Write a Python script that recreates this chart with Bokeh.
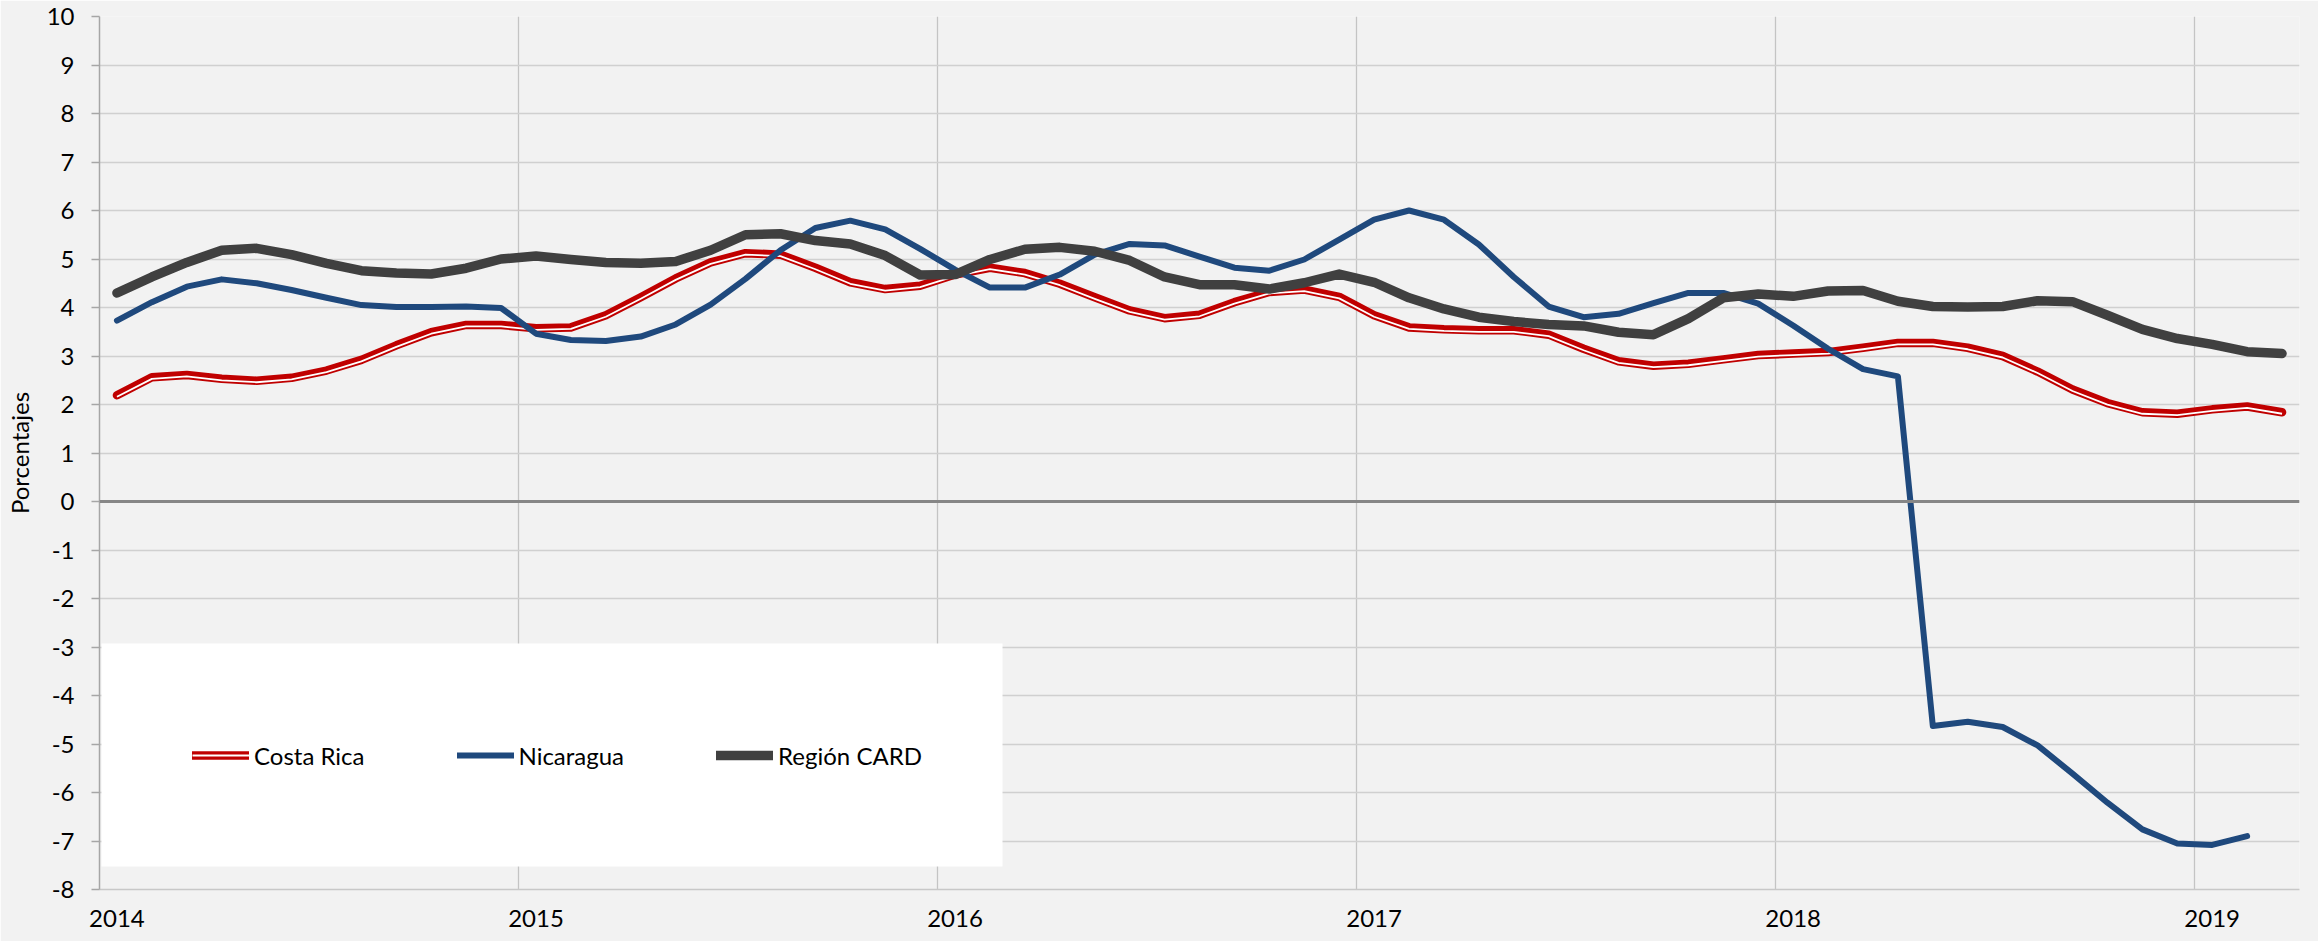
from bokeh.plotting import figure
from bokeh.models import ColumnDataSource, FixedTicker, Legend, LegendItem, Span, BoxAnnotation
from bokeh.transform import dodge
from bokeh.embed import file_html
from bokeh.resources import INLINE

# ---- data (monthly, Jan 2014 - Mar 2019) ----
months = [f"{y}-{m:02d}" for y in range(2014, 2020) for m in range(1, 13)][:63]
year_labels = ["2014", "2015", "2016", "2017", "2018", "2019"]

costa_rica = [2.19, 2.56, 2.61, 2.53, 2.49, 2.55, 2.70, 2.92, 3.22, 3.49, 3.64, 3.64, 3.57, 3.59,
              3.84, 4.21, 4.60, 4.93, 5.12, 5.09, 4.82, 4.52, 4.38, 4.45, 4.68, 4.82, 4.71, 4.49, 4.21,
              3.94, 3.78, 3.85, 4.11, 4.32, 4.37, 4.22, 3.84, 3.59, 3.55, 3.53, 3.53, 3.44, 3.15,
              2.89, 2.80, 2.84, 2.93, 3.02, 3.05, 3.08, 3.17, 3.27, 3.27, 3.17, 3.00, 2.68, 2.31,
              2.03, 1.84, 1.81, 1.90, 1.96, 1.84]

nicaragua = [3.73, 4.11, 4.43, 4.58, 4.50, 4.36, 4.20, 4.05, 4.01, 4.01, 4.02, 3.99, 3.46, 3.33,
             3.31, 3.40, 3.65, 4.06, 4.59, 5.18, 5.64, 5.79, 5.61, 5.21, 4.78, 4.41, 4.41, 4.68, 5.09,
             5.31, 5.28, 5.05, 4.82, 4.76, 4.99, 5.40, 5.81, 6.00, 5.81, 5.30, 4.63, 4.02, 3.80,
             3.87, 4.09, 4.30, 4.30, 4.08, 3.63, 3.15, 2.73, 2.58,
             -4.63, -4.54, -4.65, -5.03, -5.61, -6.21, -6.76, -7.05, -7.08, -6.90]

region_card = [4.30, 4.63, 4.93, 5.18, 5.22, 5.09, 4.91, 4.76, 4.71, 4.69, 4.81, 5.00, 5.06, 4.99,
               4.93, 4.91, 4.95, 5.18, 5.50, 5.52, 5.38, 5.31, 5.07, 4.67, 4.68, 4.99, 5.20, 5.24, 5.16,
               4.97, 4.63, 4.47, 4.47, 4.38, 4.51, 4.69, 4.52, 4.20, 3.97, 3.80, 3.71, 3.65, 3.62,
               3.49, 3.44, 3.77, 4.20, 4.28, 4.23, 4.34, 4.35, 4.13, 4.02, 4.01, 4.02, 4.14, 4.12,
               3.84, 3.55, 3.36, 3.24, 3.09, 3.05]

series_names = ["Costa Rica", "Nicaragua", "Región CARD"]

# ---- derived positions (category index) ----
xs = list(range(len(months)))
year_starts = [i for i, m in enumerate(months) if m.endswith("-01")]
year_bounds = [i - 0.5 for i in year_starts if i > 0]
y_ticks = list(range(-8, 11))

FONT = "Lato"
FRAME_H = 873

p = figure(width=2318, height=941, output_backend="svg", toolbar_location=None,
           x_range=(-0.5, len(months) - 0.5), y_range=(y_ticks[0], y_ticks[-1]),
           min_border_left=99, min_border_right=19, min_border_top=16, min_border_bottom=52)

p.background_fill_color = "#F2F2F2"
p.border_fill_color = "#F2F2F2"
p.outline_line_color = None

# grids
p.ygrid.ticker = FixedTicker(ticks=y_ticks)
p.ygrid.grid_line_color = "#D0D0D0"
p.ygrid.grid_line_width = 1.5
p.xgrid.ticker = FixedTicker(ticks=year_bounds)
p.xgrid.grid_line_color = "#C4C4C4"
p.xgrid.grid_line_width = 1.3

# y axis
p.yaxis.ticker = FixedTicker(ticks=y_ticks)
p.yaxis.major_label_overrides = {v: str(v) for v in y_ticks}
p.yaxis.axis_line_color = "#A6A6A6"
p.yaxis.axis_line_width = 1.5
p.yaxis.major_tick_line_color = "#A6A6A6"
p.yaxis.major_tick_line_width = 1.5
p.yaxis.major_tick_out = 8
p.yaxis.major_tick_in = 0
p.yaxis.minor_tick_out = 0
p.yaxis.minor_tick_in = 0
p.yaxis.major_label_text_font = FONT
p.yaxis.major_label_text_font_size = "24px"
p.yaxis.major_label_text_color = "black"
p.yaxis.major_label_standoff = 17
p.yaxis.axis_label = "Porcentajes"
p.yaxis.axis_label_text_font = FONT
p.yaxis.axis_label_text_font_size = "24px"
p.yaxis.axis_label_text_font_style = "normal"
p.yaxis.axis_label_text_color = "black"
p.yaxis.axis_label_standoff = 10

# x axis
p.xaxis.ticker = FixedTicker(ticks=year_starts)
p.xaxis.major_label_overrides = {i: lab for i, lab in zip(year_starts, year_labels)}
p.xaxis.axis_line_color = "#C8C8C8"
p.xaxis.axis_line_width = 1.5
p.xaxis.major_tick_out = 0
p.xaxis.major_tick_in = 0
p.xaxis.minor_tick_out = 0
p.xaxis.minor_tick_in = 0
p.xaxis.major_label_text_font = FONT
p.xaxis.major_label_text_font_size = "24px"
p.xaxis.major_label_text_color = "black"
p.xaxis.major_label_standoff = 20

# zero line
p.add_layout(Span(location=0, dimension="width", line_color="#878787", line_width=3))

# series
cr_src = ColumnDataSource(dict(x=xs, y=costa_rica))
ni_src = ColumnDataSource(dict(x=xs[:len(nicaragua)], y=nicaragua))
rc_src = ColumnDataSource(dict(x=xs, y=region_card))

white_offset = -1.5 * (y_ticks[-1] - y_ticks[0]) / FRAME_H

r_cr = p.line("x", "y", source=cr_src, line_color="#C00000", line_width=8.5,
              line_cap="round", line_join="round")
r_cr2 = p.line(x="x", y=dodge("y", white_offset), source=cr_src, line_color="white",
               line_width=1.8, line_join="round")
r_ni = p.line("x", "y", source=ni_src, line_color="#1F497D", line_width=6,
              line_cap="round", line_join="round")
r_rc = p.line("x", "y", source=rc_src, line_color="#404040", line_width=9.5,
              line_cap="round", line_join="round")

# white legend panel (screen units, relative to the plot frame)
p.add_layout(BoxAnnotation(left=2, right=903, bottom=23, top=246,
                           left_units="screen", right_units="screen",
                           bottom_units="screen", top_units="screen",
                           fill_color="white", fill_alpha=1.0, line_color=None))

legend = Legend(items=[LegendItem(label=series_names[0], renderers=[r_cr, r_cr2]),
                       LegendItem(label=series_names[1], renderers=[r_ni]),
                       LegendItem(label=series_names[2], renderers=[r_rc])],
                orientation="horizontal", location=(93, 119),
                background_fill_alpha=0.0, border_line_color=None,
                padding=0, spacing=92, margin=0,
                glyph_width=57, glyph_height=20, label_standoff=5, label_height=30,
                label_text_font=FONT, label_text_font_size="24px", label_text_color="black")
p.add_layout(legend)

open("out.html", "w").write(file_html(p, INLINE))
